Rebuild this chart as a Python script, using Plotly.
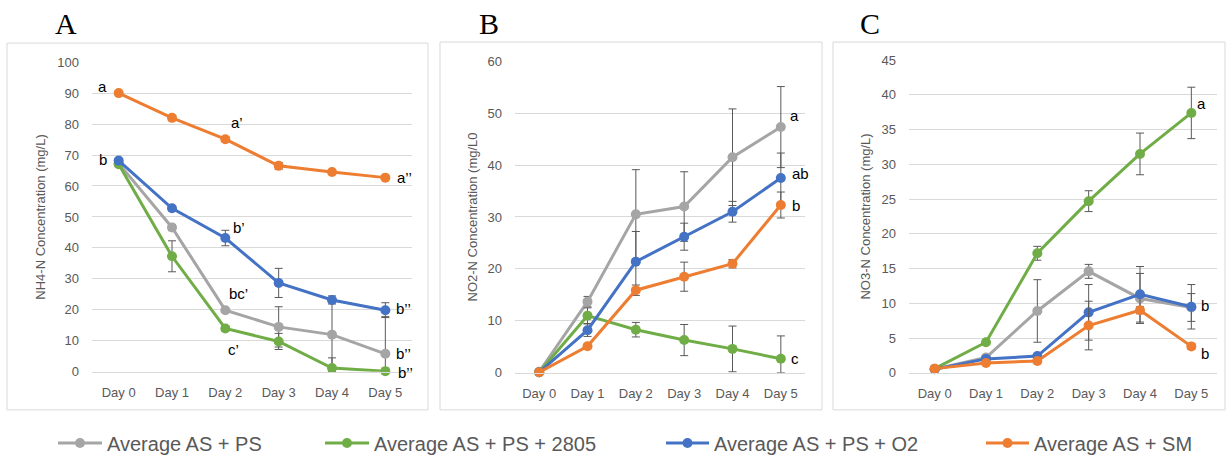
import plotly.graph_objects as go

# The viewer maps figure pixel y to window pixel y as  y_win = Y_OFF + Y_SCALE * y_fig
W, FIG_H = 1226, 476
Y_OFF, Y_SCALE = 7.0, 460 / 476

days = ["Day 0", "Day 1", "Day 2", "Day 3", "Day 4", "Day 5"]
series_names = ["Average AS + PS", "Average AS + PS + 2805", "Average AS + PS + O2", "Average AS + SM"]
series_colors = ["#A5A5A5", "#70AD47", "#4472C4", "#ED7D31"]

# Panel A: NH4-N (mg/L)
nh4_ps = [67.3, 46.6, 19.9, 14.5, 12.0, 5.8]
nh4_ps_err = [0.5, 1.0, 0.6, 6.5, 12.0, 12.0]
nh4_2805 = [67.0, 37.3, 14.0, 9.8, 1.2, 0.2]
nh4_2805_err = [0.5, 5.0, 0.8, 2.6, 3.3, 1.0]
nh4_o2 = [68.2, 52.8, 43.2, 28.7, 23.2, 19.9]
nh4_o2_err = [0.5, 0.6, 2.5, 4.7, 1.3, 2.4]
nh4_sm = [90.0, 82.0, 75.1, 66.5, 64.5, 62.7]
nh4_sm_err = [0.3, 0.8, 0.8, 1.1, 0.5, 0.4]

# Panel B: NO2-N
no2_ps = [0.2, 13.7, 30.5, 32.0, 41.5, 47.3]
no2_ps_err = [0.0, 1.0, 8.6, 6.7, 9.3, 7.8]
no2_2805 = [0.1, 11.0, 8.3, 6.3, 4.6, 2.7]
no2_2805_err = [0.0, 1.5, 1.4, 3.0, 4.4, 4.4]
no2_o2 = [0.1, 8.2, 21.4, 26.2, 31.0, 37.5]
no2_o2_err = [0.0, 1.2, 5.8, 2.6, 2.0, 4.8]
no2_sm = [0.1, 5.1, 15.9, 18.5, 21.0, 32.3]
no2_sm_err = [0.0, 0.4, 1.0, 2.8, 0.8, 2.5]

# Panel C: NO3-N
no3_ps = [0.5, 2.2, 8.9, 14.6, 10.7, 9.4]
no3_ps_err = [0.0, 0.3, 4.5, 1.0, 3.6, 2.0]
no3_2805 = [0.6, 4.4, 17.2, 24.7, 31.5, 37.4]
no3_2805_err = [0.0, 0.3, 1.0, 1.5, 3.0, 3.7]
no3_o2 = [0.5, 2.0, 2.4, 8.7, 11.3, 9.5]
no3_o2_err = [0.0, 0.2, 0.3, 4.0, 4.0, 3.2]
no3_sm = [0.6, 1.4, 1.7, 6.8, 9.0, 3.8]
no3_sm_err = [0.0, 0.2, 0.3, 3.5, 0.5, 0.4]

panels = [
    dict(letter="A", title="NH4-N Concentration (mg/L)", yrange=[0, 100], dtick=10,
         values=[nh4_ps, nh4_2805, nh4_o2, nh4_sm],
         errors=[nh4_ps_err, nh4_2805_err, nh4_o2_err, nh4_sm_err]),
    dict(letter="B", title="NO2-N Concentration (mg/L0", yrange=[0, 60], dtick=10,
         values=[no2_ps, no2_2805, no2_o2, no2_sm],
         errors=[no2_ps_err, no2_2805_err, no2_o2_err, no2_sm_err]),
    dict(letter="C", title="NO3-N Concentration (mg/L)", yrange=[0, 45], dtick=5,
         values=[no3_ps, no3_2805, no3_o2, no3_sm],
         errors=[no3_ps_err, no3_2805_err, no3_o2_err, no3_sm_err]),
]

# significance letters: (panel index, series index, day index, text, xshift, yshift)
sig_labels = [
    (0, 3, 0, "a", -16, 6), (0, 3, 2, "a\u2019", 12, 16), (0, 3, 5, "a\u2019\u2019", 19, 0),
    (0, 2, 0, "b", -16, 1), (0, 2, 2, "b\u2019", 14, 10), (0, 0, 2, "bc\u2019", 13, 16),
    (0, 1, 2, "c\u2019", 8, -20), (0, 2, 5, "b\u2019\u2019", 18, 2), (0, 0, 5, "b\u2019\u2019", 18, 0),
    (0, 1, 5, "b\u2019\u2019", 20, -1),
    (1, 0, 5, "a", 14, 11), (1, 2, 5, "ab", 20, 4), (1, 3, 5, "b", 15, 0), (1, 1, 5, "c", 14, 0),
    (2, 1, 5, "a", 10, 9), (2, 2, 5, "b", 14, 1), (2, 3, 5, "b", 14, -7),
]

# layout geometry (window pixels)
plot_x = [(92, 412), (515, 805), (909, 1217)]
plot_y = [(62, 371), (61, 372), (60, 372)]
boxes = [(7, 43, 428, 409), (440, 42, 822, 409), (833, 42, 1225, 409)]
letter_x = [66, 489, 870]
letter_y = 23
legend_y = 442
title_standoff = [8, 6, 7]
legend_marker_x = [73, 340, 681, 1001]
legend_text_x = [107, 374, 714, 1034]


def py(y):
    return 1 - ((y - Y_OFF) / Y_SCALE) / FIG_H


fig = go.Figure()
legend_ids = ["legend", "legend2", "legend3", "legend4"]

for p, panel in enumerate(panels):
    ax = "" if p == 0 else str(p + 1)
    for s in range(4):
        vals = panel["values"][s]
        errs = panel["errors"][s]
        err_minus = [min(e, v) for e, v in zip(errs, vals)]
        fig.add_trace(go.Scatter(
            x=days, y=vals, mode="lines+markers", name=series_names[s],
            xaxis="x" + ax, yaxis="y" + ax,
            line=dict(color=series_colors[s], width=3),
            marker=dict(color=series_colors[s], size=10),
            error_y=dict(type="data", array=errs, arrayminus=err_minus, symmetric=False,
                         color="#595959", thickness=1, width=4),
            cliponaxis=False,
            showlegend=(p == 0), legend=legend_ids[s],
        ))

layout = dict(
    width=W, height=FIG_H, margin=dict(l=0, r=0, t=0, b=0), autosize=False,
    paper_bgcolor="white", plot_bgcolor="white",
    font=dict(family="Liberation Sans, Arial, sans-serif", size=13, color="#595959"),
    shapes=[], annotations=[],
)

for p, panel in enumerate(panels):
    ax = "" if p == 0 else str(p + 1)
    x0, x1 = plot_x[p]
    ytop, ybot = plot_y[p]
    layout["xaxis" + ax] = dict(
        domain=[x0 / W, x1 / W], anchor="y" + ax, type="category",
        range=[-0.5, 5.5], showgrid=False, showline=True, linecolor="#D9D9D9",
        linewidth=1, ticks="", ticklabelstandoff=9, fixedrange=True,
        tickfont=dict(size=13, color="#595959"),
    )
    layout["yaxis" + ax] = dict(
        domain=[py(ybot), py(ytop)], anchor="x" + ax,
        range=panel["yrange"], dtick=panel["dtick"], showgrid=True,
        gridcolor="#D9D9D9", gridwidth=1, zeroline=False, showline=False,
        ticks="", ticklabelstandoff=12, fixedrange=True,
        tickfont=dict(size=13, color="#595959"),
        title=dict(text=panel["title"], standoff=title_standoff[p],
                   font=dict(size=13, color="#595959")),
    )
    bx0, by0, bx1, by1 = boxes[p]
    layout["shapes"].append(dict(
        type="rect", xref="paper", yref="paper",
        x0=bx0 / W, x1=bx1 / W, y0=py(by1), y1=py(by0),
        line=dict(color="#D9D9D9", width=1), fillcolor="rgba(0,0,0,0)", layer="below",
    ))
    layout["annotations"].append(dict(
        text=panel["letter"], xref="paper", yref="paper",
        x=letter_x[p] / W, y=py(letter_y), xanchor="center", yanchor="middle",
        showarrow=False, font=dict(family="Liberation Serif, Times New Roman, serif",
                                   size=30, color="black"),
    ))

for (p, s, d, txt, xs, ys) in sig_labels:
    ax = "" if p == 0 else str(p + 1)
    layout["annotations"].append(dict(
        text=txt, x=days[d], y=panels[p]["values"][s][d],
        xref="x" + ax, yref="y" + ax, xshift=xs, yshift=ys / Y_SCALE,
        showarrow=False, xanchor="center", yanchor="middle",
        font=dict(size=15, color="black"),
    ))

for i, lid in enumerate(legend_ids):
    origin = legend_marker_x[i] - 20
    layout[lid] = dict(
        x=origin / W, xanchor="left",
        y=py(legend_y), yanchor="middle", orientation="h",
        bgcolor="rgba(0,0,0,0)", borderwidth=0,
        font=dict(size=20, color="#595959"),
        itemwidth=max(30, legend_text_x[i] - origin - 10),
    )

fig.update_layout(**layout)
fig.write_html(
    "out.html",
    config={"responsive": False, "displayModeBar": False},
    post_script="document.documentElement.style.margin='0';document.body.style.margin='0';",
)
